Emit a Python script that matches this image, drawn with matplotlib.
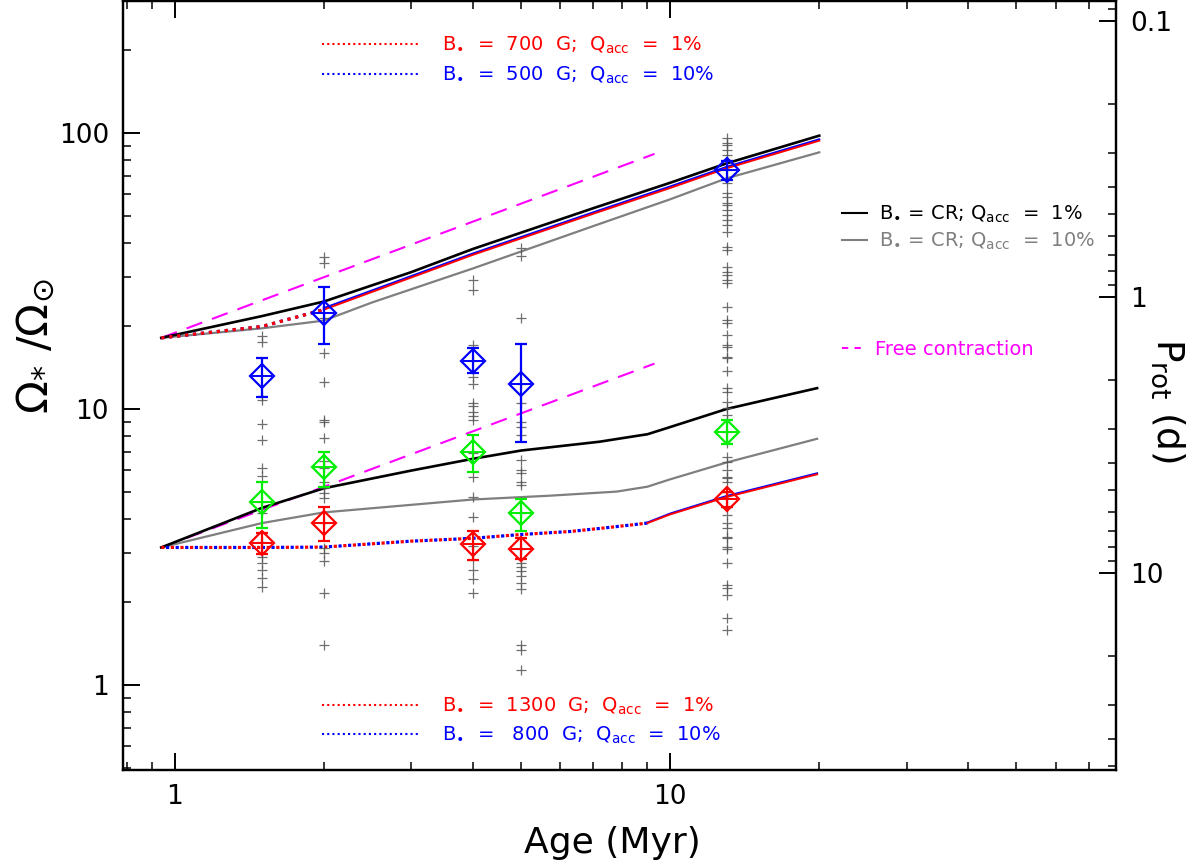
import numpy as np
import matplotlib
matplotlib.use('Agg')
import matplotlib.pyplot as plt
from matplotlib.lines import Line2D
from matplotlib import ticker

P_SUN = 25.4  # solar rotation period (d) linking the two y axes

# ---------------- model tracks ----------------
# upper set (disk lifetime 2 Myr)
age_cr1_up = [0.94, 1.5, 2.0, 3.0, 4.0, 7.0, 10.0, 13.0, 20.0]
om_cr1_up = [18.1, 21.7, 24.5, 31.3, 38.0, 53.4, 66.0, 77.6, 97.8]
age_cr10_up = [0.94, 1.5, 2.0, 2.5, 4.0, 7.0, 10.0, 13.0, 20.0]
om_cr10_up = [18.1, 19.6, 20.9, 24.3, 32.3, 46.0, 57.5, 68.5, 85.1]
age_b_up_disk = [0.94, 1.5, 2.0]
om_b_up_disk = [18.1, 19.9, 22.9]
age_b_up_free = [2.0, 4.0, 7.0, 10.0, 13.0, 20.0]
om_b700_up_free = [22.9, 36.2, 51.0, 63.2, 74.5, 93.8]
om_b500_up_free = [23.2, 36.6, 51.6, 64.0, 75.4, 94.9]

# lower set (disk lifetime 9 Myr)
age_cr1_lo = [0.94, 1.5, 2.0, 3.0, 4.0, 5.0, 7.2, 8.6, 9.0, 10.0, 13.0, 16.0, 19.8]
om_cr1_lo = [3.15, 4.38, 5.16, 5.98, 6.6, 7.07, 7.61, 8.0, 8.1, 8.6, 10.0, 10.9, 11.9]
age_cr10_lo = [0.94, 1.5, 2.0, 4.0, 5.7, 7.8, 9.0, 10.0, 13.0, 19.8]
om_cr10_lo = [3.15, 3.86, 4.22, 4.7, 4.85, 5.02, 5.23, 5.56, 6.4, 7.8]
age_b_lo_disk = [0.94, 1.5, 2.0, 3.0, 4.0, 5.0, 6.3, 7.5, 9.0]
om_b_lo_disk = [3.15, 3.15, 3.16, 3.32, 3.4, 3.51, 3.6, 3.72, 3.86]
age_b_lo_free = [9.0, 10.0, 13.0, 19.8]
om_b1300_lo_free = [3.86, 4.15, 4.8, 5.8]
om_b800_lo_free = [3.88, 4.18, 4.84, 5.85]

# free contraction
age_free = [0.94, 9.3]
om_free_up = [18.1, 84.0]
om_free_lo = [3.15, 14.6]

# ---------------- observations ----------------
cluster_ages = [1.5, 2.0, 4.0, 5.0, 13.0]
stars_1p5 = [18.4, 17.5, 11.1, 10.8, 8.8, 7.7, 6.1, 5.7, 4.6, 4.2, 3.3, 3.0, 2.9,
             2.77, 2.61, 2.44, 2.27]
stars_2 = [35.5, 33.8, 21.4, 15.96, 12.5, 9.1, 8.97, 7.85, 6.5, 6.1, 5.45, 5.17,
           4.96, 4.76, 3.85, 3.14, 3.0, 2.81, 2.15, 1.40]
stars_4 = [29.3, 27.0, 17.1, 14.9, 13.06, 12.3, 10.5, 10.25, 9.75, 9.4, 9.1, 6.9,
           5.67, 4.8, 4.06, 3.2, 2.84, 2.61, 2.42, 2.15]
stars_5 = [38.3, 35.8, 21.4, 12.3, 10.5, 8.97, 8.6, 8.05, 6.53, 6.0, 5.86, 5.44,
           5.3, 4.2, 3.1, 2.77, 2.68, 2.59, 2.48, 2.34, 2.23, 1.40, 1.34, 1.13]
stars_13 = [95.9, 92.0, 90.5, 86.8, 83.2, 79.8, 73.4, 65.9, 60.6, 58.6, 55.8, 54.8,
            52.6, 50.5, 48.4, 46.4, 43.8, 38.6, 37.7, 32.7, 31.4, 30.6, 29.3, 28.6,
            23.4, 21.0, 20.5, 18.5, 17.1, 16.8, 15.4, 15.3, 13.7, 11.9, 11.5, 10.6,
            10.1, 9.5, 9.1, 8.25, 7.5, 6.7, 6.43, 6.0, 5.67, 5.62, 5.44, 5.0, 4.76,
            4.41, 4.13, 3.86, 3.71, 3.44, 3.41, 3.16, 3.11, 2.77, 2.30, 2.25, 2.12,
            1.75, 1.58]
stars_all = [stars_1p5, stars_2, stars_4, stars_5, stars_13]

pct_fast = [13.17, 22.2, 14.96, 12.3, 73.5]
pct_fast_lo = [11.03, 17.2, 13.47, 7.6, 67.6]
pct_fast_hi = [15.35, 27.7, 16.6, 17.2, 79.3]
pct_med = [4.59, 6.15, 6.99, 4.19, 8.28]
pct_med_lo = [3.71, 5.23, 5.9, 3.6, 7.45]
pct_med_hi = [5.43, 7.0, 8.05, 4.73, 9.12]
pct_slow = [3.26, 3.85, 3.23, 3.11, 4.72]
pct_slow_lo = [2.98, 3.32, 2.84, 2.85, 4.43]
pct_slow_hi = [3.54, 4.40, 3.62, 3.41, 5.02]

XLIM = (0.787, 79.4)
YLIM = (0.492, 300.0)

RED, BLUE, GREEN, MAG = '#ff0000', '#0000ff', '#00ee00', '#ff00ff'
GRAYL = '#7f7f7f'
DOT = (0, (1, 1.5))

plt.rcParams['font.family'] = ['DejaVu Sans']
plt.rcParams['mathtext.fontset'] = 'dejavusans'

fig = plt.figure(figsize=(12, 8.65), dpi=100)
ax = fig.add_axes([0.1025, 0.1098, 0.8275, 0.8887])
ax.set_xscale('log')
ax.set_yscale('log')
ax.set_xlim(*XLIM)
ax.set_ylim(*YLIM)

# free contraction
for om in (om_free_up, om_free_lo):
    ax.plot(age_free, om, color=MAG, lw=1.5, ls=(0, (8, 5)), zorder=2)

# CR tracks
ax.plot(age_cr10_up, om_cr10_up, color=GRAYL, lw=1.6, zorder=3)
ax.plot(age_cr10_lo, om_cr10_lo, color=GRAYL, lw=1.6, zorder=3)
ax.plot(age_cr1_up, om_cr1_up, color='black', lw=1.9, zorder=3)
ax.plot(age_cr1_lo, om_cr1_lo, color='black', lw=1.9, zorder=3)

# fixed-field tracks
ax.plot(age_b_up_disk, om_b_up_disk, color=BLUE, lw=2.3, ls=DOT, zorder=4)
ax.plot(age_b_up_disk, om_b_up_disk, color=RED, lw=2.3, ls=DOT, zorder=4)
ax.plot(age_b_up_free, om_b500_up_free, color=BLUE, lw=1.4, zorder=4)
ax.plot(age_b_up_free, om_b700_up_free, color=RED, lw=1.4, zorder=4)
ax.plot(age_b_lo_disk, om_b_lo_disk, color=RED, lw=2.3, ls=(0, (1, 2)), zorder=4)
ax.plot(age_b_lo_disk, om_b_lo_disk, color=BLUE, lw=2.3, ls=(1.5, (1, 2)), zorder=4)
ax.plot(age_b_lo_free, om_b800_lo_free, color=BLUE, lw=1.4, zorder=4)
ax.plot(age_b_lo_free, om_b1300_lo_free, color=RED, lw=1.4, zorder=4)

# individual stars
for a, vals in zip(cluster_ages, stars_all):
    ax.plot(np.full(len(vals), a), vals, ls='none', marker='+', ms=7, mew=0.9,
            color='#555555', alpha=0.85, zorder=5)

# percentiles with error bars
for vals, lo, hi, col in ((pct_fast, pct_fast_lo, pct_fast_hi, BLUE),
                          (pct_med, pct_med_lo, pct_med_hi, GREEN),
                          (pct_slow, pct_slow_lo, pct_slow_hi, RED)):
    v = np.array(vals)
    yerr = [v - np.array(lo), np.array(hi) - v]
    ax.errorbar(cluster_ages, v, yerr=yerr, fmt='none', ecolor=col, elinewidth=1.6,
                capsize=4, capthick=1.6, zorder=6)
    ax.plot(cluster_ages, v, ls='none', marker='D', ms=12, mfc='none', mec=col,
            mew=1.6, zorder=7)
    ax.plot(cluster_ages, v, ls='none', marker='+', ms=15, mew=1.4, color=col, zorder=7)

# axes styling
fmt = ticker.FuncFormatter(lambda v, _: f'{v:g}')
ax.xaxis.set_major_formatter(fmt)
ax.yaxis.set_major_formatter(fmt)
ax.xaxis.set_minor_formatter(ticker.NullFormatter())
ax.yaxis.set_minor_formatter(ticker.NullFormatter())
ax.tick_params(which='major', direction='in', length=12, width=1.4, top=True,
               right=False, labelsize=19, pad=10)
ax.tick_params(which='minor', direction='in', length=6, width=1.1, top=True,
               right=False)
for s in ax.spines.values():
    s.set_linewidth(1.6)

ax2 = ax.twinx()
ax2.set_yscale('log')
ax2.set_ylim(P_SUN / YLIM[0], P_SUN / YLIM[1])
ax2.yaxis.set_major_formatter(fmt)
ax2.yaxis.set_minor_formatter(ticker.NullFormatter())
ax2.tick_params(which='major', direction='in', length=12, width=1.4, labelsize=19, pad=10)
ax2.tick_params(which='minor', direction='in', length=6, width=1.1)
for s in ax2.spines.values():
    s.set_linewidth(1.6)

# legends
def leg_handle(color, ls, lw=1.5):
    return Line2D([], [], color=color, ls=ls, lw=lw)

lab_kw = dict(frameon=False, fontsize=14, labelcolor='linecolor', borderpad=0,
              borderaxespad=0, handletextpad=1.1, labelspacing=0.42)
bul = r'B$_{\bullet}$'
qacc = r'Q$_{\rm acc}$'
leg1 = ax.legend([leg_handle(RED, DOT), leg_handle(BLUE, DOT)],
                 [f'{bul}  =  700  G;  {qacc}  =  1%', f'{bul}  =  500  G;  {qacc}  =  10%'],
                 loc='upper left', bbox_to_anchor=(0.2, 0.956), handlelength=5.1, **lab_kw)
ax.add_artist(leg1)
leg2 = ax.legend([leg_handle(RED, DOT), leg_handle(BLUE, DOT)],
                 [f'{bul}  =  1300  G;  {qacc}  =  1%', f'{bul}  =   800  G;  {qacc}  =  10%'],
                 loc='upper left', bbox_to_anchor=(0.2, 0.097), handlelength=5.1, **lab_kw)
ax.add_artist(leg2)
leg3 = ax.legend([leg_handle('black', '-'), leg_handle(GRAYL, '-')],
                 [f'{bul} = CR; {qacc}  =  1%', f'{bul} = CR; {qacc}  =  10%'],
                 loc='upper left', bbox_to_anchor=(0.724, 0.737), handlelength=1.3,
                 **{**lab_kw, 'handletextpad': 0.6, 'labelspacing': 0.3})
ax.add_artist(leg3)
leg4 = ax.legend([leg_handle(MAG, (0, (3, 3)))], ['Free contraction'],
                 loc='upper left', bbox_to_anchor=(0.724, 0.56), handlelength=1.3,
                 **{**lab_kw, 'handletextpad': 0.4})

# axis labels
fig.text(0.03, 0.60, r'$\Omega_{*}\ /\Omega_{\odot}$', rotation=90, fontsize=31,
         ha='center', va='center')
fig.text(0.973, 0.537, r'P$_{\rm rot}$ (d)', rotation=270, fontsize=27,
         ha='center', va='center')
fig.text(0.51, 0.026, 'Age (Myr)', fontsize=26, ha='center', va='center')

fig.savefig('out.png', dpi=100)
